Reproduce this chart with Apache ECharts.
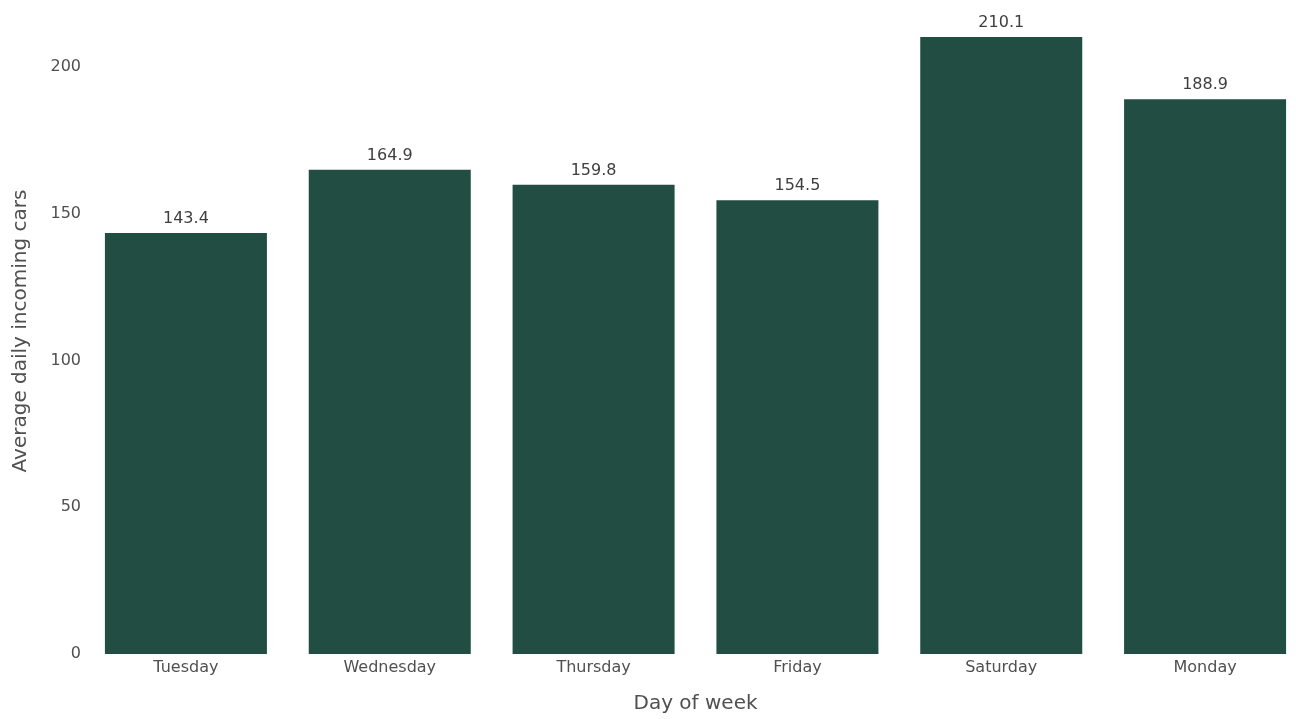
<!DOCTYPE html>
<html>
<head>
<meta charset="utf-8">
<script src="https://cdn.jsdelivr.net/npm/echarts@6/dist/echarts.min.js"></script>
<style>
  html, body { margin: 0; padding: 0; background: #ffffff; overflow: hidden; }
  /* the plot runs a little past the right edge of the page */
  #chart { width: 1310px; height: 719px; }
</style>
</head>
<body>
<div id="chart"></div>
<script>
// Average incoming cars per day of week
const days = ['Tuesday', 'Wednesday', 'Thursday', 'Friday', 'Saturday', 'Monday'];
const avgCars = [143.4, 164.9, 159.8, 154.5, 210.1, 188.9];
const yTicks = [0, 50, 100, 150, 200];

const chart = echarts.init(document.getElementById('chart'), null, { renderer: 'canvas' });

const textColor = '#505050';
const font = 'DejaVu Sans';

chart.setOption({
  backgroundColor: '#ffffff',
  animation: false,
  grid: { left: 84, top: 8, right: 3, bottom: 62 },
  xAxis: {
    type: 'category',
    data: days,
    name: 'Day of week',
    nameLocation: 'middle',
    nameGap: 40,
    nameTextStyle: { color: textColor, fontFamily: font, fontSize: 20 },
    axisLine: { show: false },
    axisTick: { show: false },
    axisLabel: { color: textColor, fontFamily: font, fontSize: 16, margin: 6 }
  },
  yAxis: {
    type: 'value',
    min: 0,
    max: 220,
    interval: 50,
    name: 'Average daily incoming cars',
    nameLocation: 'middle',
    nameGap: 53,
    nameTextStyle: { color: textColor, fontFamily: font, fontSize: 20 },
    axisLine: { show: false },
    axisTick: { show: false },
    splitLine: { show: false },
    axisLabel: {
      color: textColor, fontFamily: font, fontSize: 16, margin: 3,
      formatter: v => (yTicks.includes(v) ? String(v) : '')
    }
  },
  series: [{
    type: 'bar',
    data: avgCars,
    barWidth: 162,
    itemStyle: { color: '#214d42' },
    label: {
      show: true,
      position: 'top',
      distance: 6,
      color: '#3e3e3e',
      fontFamily: font,
      fontSize: 16,
      formatter: p => p.value.toFixed(1)
    }
  }]
});
</script>
</body>
</html>
